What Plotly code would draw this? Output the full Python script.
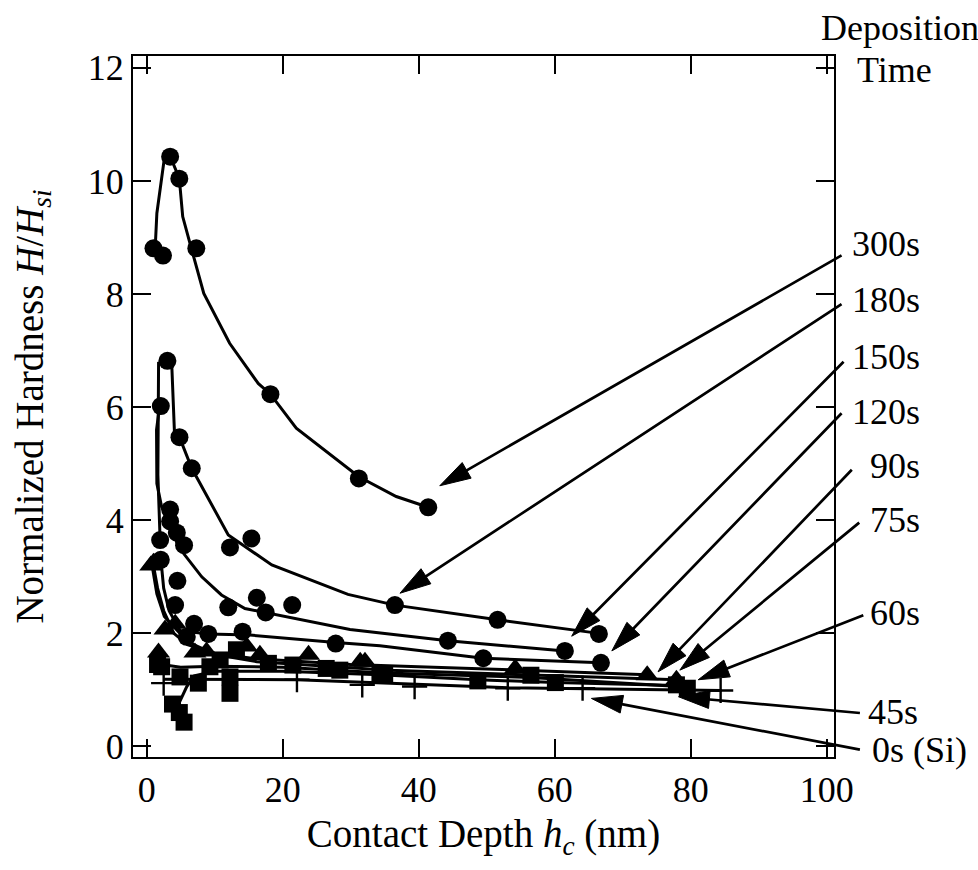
import math
import plotly.graph_objects as go

# ---------------- data ----------------
# 300 s  (circles)
x300 = [1.0, 2.4, 3.45, 4.8, 7.3, 18.2, 31.2, 41.4]
y300 = [8.81, 8.68, 10.43, 10.04, 8.81, 6.23, 4.74, 4.23]
x300_fit = [1.25, 1.5, 2.6, 3.9, 4.8, 5.3, 6.5, 8.4, 12.2, 16.4, 18.2, 22.0, 31.2, 36.7, 41.4]
y300_fit = [8.81, 9.43, 10.40, 10.31, 10.04, 9.37, 8.84, 8.01, 7.13, 6.42, 6.23, 5.63, 4.77, 4.42, 4.23]

# 180 s  (circles)
x180 = [1.98, 3.05, 4.82, 6.63, 12.25, 15.4, 36.5, 51.6, 66.5]
y180 = [3.65, 6.82, 5.47, 4.92, 3.52, 3.68, 2.50, 2.24, 1.99]
x180_fit = [1.98, 1.65, 1.75, 3.05, 3.7, 4.08, 4.82, 6.63, 12.0, 15.2, 18.4, 29.6, 36.5, 51.6, 66.5]
y180_fit = [3.65, 4.80, 6.78, 6.82, 6.72, 5.57, 5.47, 4.92, 3.74, 3.47, 3.21, 2.69, 2.50, 2.24, 2.00]

# 150 s  (circles)
x150 = [2.08, 3.45, 3.45, 4.43, 5.5, 12.0, 16.2, 17.5, 21.4, 44.3, 61.5]
y150 = [6.02, 4.19, 3.98, 3.78, 3.56, 2.46, 2.63, 2.37, 2.50, 1.87, 1.69]
x150_fit = [1.9, 1.45, 1.5, 2.2, 3.2, 4.67, 8.1, 11.0, 14.45, 20.1, 29.9, 44.3, 61.5]
y150_fit = [6.02, 5.60, 4.65, 4.24, 4.00, 3.53, 3.00, 2.68, 2.44, 2.30, 2.07, 1.87, 1.69]

# 120 s  (circles)
x120 = [2.08, 4.52, 4.18, 6.97, 5.9, 9.07, 14.1, 27.8, 49.5, 66.8]
y120 = [3.30, 2.93, 2.50, 2.17, 1.94, 1.99, 2.03, 1.82, 1.56, 1.48]
x120_fit = [2.1, 2.5, 3.3, 4.9, 9.07, 15.2, 27.8, 34.3, 49.5, 66.8]
y120_fit = [3.30, 2.80, 2.40, 2.05, 1.99, 1.97, 1.84, 1.78, 1.56, 1.48]

# 90 s  (triangles)
x90 = [1.0, 2.7, 4.2, 7.1, 14.7, 23.8, 31.4, 54.2, 73.6]
y90 = [3.25, 2.07, 2.17, 1.66, 1.77, 1.62, 1.50, 1.38, 1.26]
x90_fit = [1.0, 1.6, 2.5, 4.0, 6.0, 10.0, 16.0, 30.0, 50.0, 73.6]
y90_fit = [3.20, 2.80, 2.40, 2.00, 1.80, 1.65, 1.55, 1.45, 1.37, 1.27]

# 75 s  (triangles)
x75 = [0.6, 1.74, 8.8, 16.65, 32.1, 77.9]
y75 = [3.20, 1.66, 1.68, 1.62, 1.50, 1.18]
x75_fit = [0.8, 1.5, 2.6, 4.9, 6.9, 10.3, 16.2, 35.7, 60.0, 77.9]
y75_fit = [3.20, 2.70, 2.30, 2.00, 1.80, 1.62, 1.50, 1.35, 1.25, 1.18]

# 60 s  (squares)
x60 = [1.6, 2.2, 4.9, 10.8, 13.2, 17.9, 21.5, 28.4, 35.0, 56.5, 79.5]
y60 = [1.45, 1.41, 1.23, 1.53, 1.71, 1.47, 1.44, 1.35, 1.26, 1.26, 1.03]
x60_fit = [2.2, 5.0, 10.0, 20.0, 35.0, 56.5, 79.5]
y60_fit = [1.45, 1.40, 1.42, 1.40, 1.30, 1.22, 1.05]

# 45 s  (squares)
x45 = [3.8, 4.8, 5.5, 7.6, 9.3, 12.25, 12.25, 26.4, 34.3, 48.7, 60.1, 77.9]
y45 = [0.75, 0.60, 0.43, 1.12, 1.41, 0.94, 1.23, 1.38, 1.29, 1.16, 1.13, 1.09]
x45_fit = [4.5, 5.9, 7.0, 10.0, 20.0, 34.3, 48.7, 60.1, 77.9]
y45_fit = [0.70, 1.06, 1.25, 1.33, 1.33, 1.27, 1.18, 1.13, 1.08]

# 0 s (Si)  (plus)
x0 = [2.5, 22.1, 31.7, 39.4, 53.1, 64.1, 84.4]
y0 = [1.12, 1.18, 1.09, 1.06, 1.03, 1.03, 0.99]
x0_fit = [2.4, 22.1, 35.8, 53.2, 84.6]
y0_fit = [1.19, 1.18, 1.12, 1.04, 0.99]

# labels and the arrows that tie them to the curves
labels = ["300s", "180s", "150s", "120s", "90s", "75s", "60s", "45s", "0s (Si)"]
arrow_tip_x = [43.1, 37.25, 62.5, 68.4, 75.2, 78.4, 81.1, 78.2, 65.4]
arrow_tip_y = [4.61, 2.71, 1.95, 1.69, 1.32, 1.35, 1.18, 0.88, 0.85]
arrow_tail_x = [102.4, 102.4, 102.7, 102.4, 103.9, 105.0, 105.6, 105.1, 105.1]
arrow_tail_y = [8.70, 7.84, 6.83, 5.92, 4.92, 3.98, 2.33, 0.59, -0.06]
label_px_x = [850, 850, 850, 850, 868, 868, 868, 866, 870]
label_px_y = [244, 300, 357, 412, 466, 520, 613, 712, 750]

x_ticks = [0, 20, 40, 60, 80, 100]
y_ticks = [0, 2, 4, 6, 8, 10, 12]

# ---------------- figure ----------------
W, H = 978, 870
L, R, T, B = 133, 834, 56, 757
XR = [-2.01, 101.07]
YR = [-0.186, 12.21]
FONT = "Liberation Serif, Times New Roman, serif"
BLK = "black"

# pixel scale of the axes (used to shape the arrow heads)
sx = (R - L) / (XR[1] - XR[0])
sy = (B - T) / (YR[1] - YR[0])

fig = go.Figure()

series = [
    (x300, y300, x300_fit, y300_fit, "circle"),
    (x180, y180, x180_fit, y180_fit, "circle"),
    (x150, y150, x150_fit, y150_fit, "circle"),
    (x120, y120, x120_fit, y120_fit, "circle"),
    (x90, y90, x90_fit, y90_fit, "triangle-up"),
    (x75, y75, x75_fit, y75_fit, "triangle-up"),
    (x60, y60, x60_fit, y60_fit, "square"),
    (x45, y45, x45_fit, y45_fit, "square"),
    (x0, y0, x0_fit, y0_fit, "cross-thin"),
]

for xs, ys, xf, yf, sym in series:
    fig.add_trace(go.Scatter(x=xf, y=yf, mode="lines",
                             line=dict(color=BLK, width=3),
                             showlegend=False, hoverinfo="skip"))

for xs, ys, xf, yf, sym in series:
    if sym == "cross-thin":
        mk = dict(symbol=sym, size=18, color=BLK, line=dict(color=BLK, width=2.4))
    elif sym == "triangle-up":
        mk = dict(symbol=sym, size=20, color=BLK, line=dict(width=0))
    elif sym == "square":
        mk = dict(symbol=sym, size=17, color=BLK, line=dict(width=0))
    else:
        mk = dict(symbol=sym, size=18, color=BLK, line=dict(width=0))
    fig.add_trace(go.Scatter(x=xs, y=ys, mode="markers", marker=mk,
                             showlegend=False, hoverinfo="skip"))

# arrow heads: slim filled triangles pointing along each leader line
HEAD_LEN, HEAD_HALF = 31.0, 9.0
for tx, ty, ax, ay in zip(arrow_tip_x, arrow_tip_y, arrow_tail_x, arrow_tail_y):
    dxp = (ax - tx) * sx
    dyp = (ay - ty) * sy
    n = math.hypot(dxp, dyp)
    ux, uy = dxp / n, dyp / n
    bx, by = ux * HEAD_LEN, uy * HEAD_LEN
    px_, py_ = -uy * HEAD_HALF, ux * HEAD_HALF
    hx = [tx, tx + (bx + px_) / sx, tx + (bx - px_) / sx, tx]
    hy = [ty, ty + (by + py_) / sy, ty + (by - py_) / sy, ty]
    fig.add_trace(go.Scatter(x=hx, y=hy, mode="lines", fill="toself",
                             fillcolor=BLK, line=dict(color=BLK, width=1),
                             showlegend=False, hoverinfo="skip"))

annotations = []
for tx, ty, ax, ay in zip(arrow_tip_x, arrow_tip_y, arrow_tail_x, arrow_tail_y):
    annotations.append(dict(x=tx, y=ty, ax=ax, ay=ay, xref="x", yref="y",
                            axref="x", ayref="y", text="", showarrow=True,
                            arrowhead=0, arrowwidth=2.7, arrowcolor=BLK,
                            standoff=20))

def px2paper(px, py):
    return (px - L) / (R - L), (B - py) / (B - T)

for lab, lx, ly in zip(labels, label_px_x, label_px_y):
    qx, qy = px2paper(lx, ly)
    annotations.append(dict(x=qx, y=qy, xref="paper", yref="paper", text=lab,
                            showarrow=False, xanchor="left", yanchor="middle",
                            font=dict(family=FONT, size=36, color=BLK)))

for txt, cx, cy in [("Deposition", 900, 28), ("Time", 894, 70)]:
    qx, qy = px2paper(cx, cy)
    annotations.append(dict(x=qx, y=qy, xref="paper", yref="paper", text=txt,
                            showarrow=False, xanchor="center", yanchor="middle",
                            font=dict(family=FONT, size=36, color=BLK)))

axis_common = dict(showgrid=False, zeroline=False, showline=True, linewidth=2,
                   linecolor=BLK, mirror="ticks", ticks="inside", ticklen=18,
                   tickwidth=2, tickcolor=BLK,
                   tickfont=dict(family=FONT, size=36, color=BLK))

fig.update_layout(
    width=W, height=H,
    margin=dict(l=L, r=W - R, t=T, b=H - B, autoexpand=False),
    paper_bgcolor="white", plot_bgcolor="white",
    xaxis=dict(range=XR, tickvals=x_ticks, ticktext=[str(v) for v in x_ticks],
               title=dict(text="Contact Depth <i>h</i><sub><i>c</i></sub> (nm)",
                          font=dict(family=FONT, size=39, color=BLK), standoff=10),
               **axis_common),
    yaxis=dict(range=YR, tickvals=y_ticks, ticktext=[str(v) for v in y_ticks],
               title=dict(text="Normalized Hardness <i>H</i>/<i>H</i><sub><i>si</i></sub>",
                          font=dict(family=FONT, size=39, color=BLK), standoff=32),
               **axis_common),
    annotations=annotations,
    showlegend=False,
)

fig.write_html("out.html")
